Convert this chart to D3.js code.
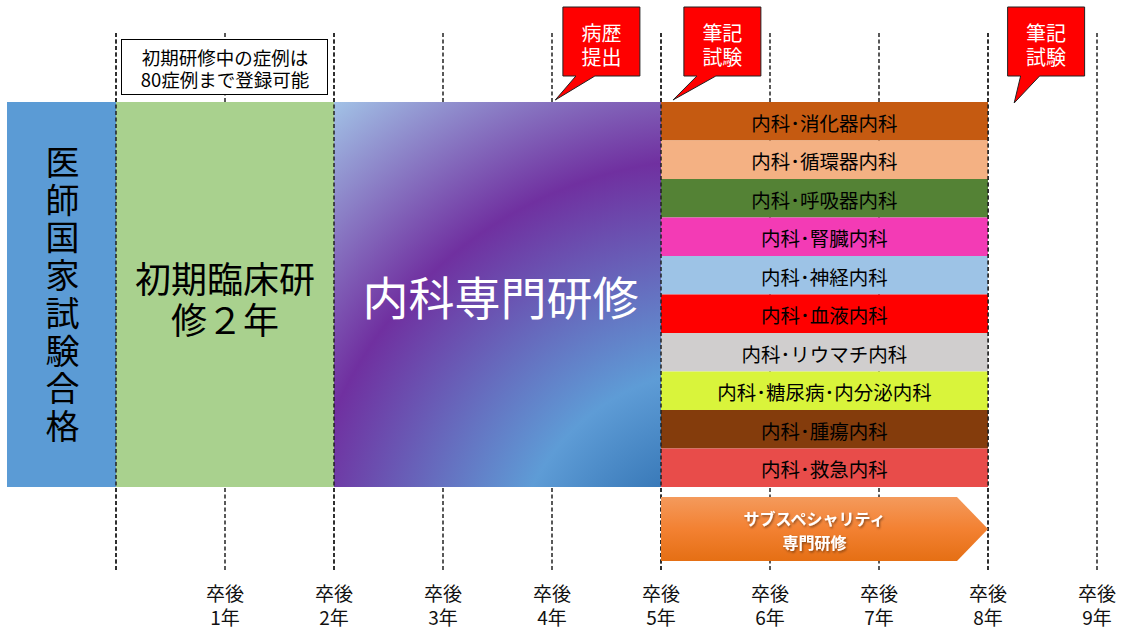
<!DOCTYPE html>
<html>
<head>
<meta charset="utf-8">
<script src="https://cdnjs.cloudflare.com/ajax/libs/d3/7.8.5/d3.min.js"></script>
<style>
  body { margin: 0; background: #fff; }
  text { font-family: "Noto Sans CJK JP", "Noto Sans", sans-serif; }
</style>
</head>
<body>
<script>
// timeline years (0 = graduation line)
var years = [0, 1, 2, 3, 4, 5, 6, 7, 8, 9];
var tickYears = [1, 2, 3, 4, 5, 6, 7, 8, 9];

// phases
var phaseStarts = [-1, 0, 2];
var phaseEnds = [0, 2, 5];
var phaseLines = [["医", "師", "国", "家", "試", "験", "合", "格"], ["初期臨床研", "修２年"], ["内科専門研修"]];

// subspecialties, 5 -> 8 years
var specialtyNames = ["内科･消化器内科", "内科･循環器内科", "内科･呼吸器内科", "内科･腎臓内科", "内科･神経内科",
  "内科･血液内科", "内科･リウマチ内科", "内科･糖尿病･内分泌内科", "内科･腫瘍内科", "内科･救急内科"];
var specialtyColors = ["#C55A11", "#F4B183", "#548235", "#F33BB5", "#9DC3E6",
  "#FF0000", "#D0CECE", "#D9F43B", "#843C0C", "#E84C4A"];
var specialtyStart = 5, specialtyEnd = 8;
var subLines = ["サブスペシャリティ", "専門研修"];

// callouts
var calloutLines = [["病歴", "提出"], ["筆記", "試験"], ["筆記", "試験"]];
var calloutBoxYears = [4.10, 5.21, 8.18];
var calloutTipYears = [4.03, 5.11, 8.24];

var noteLines = ["初期研修中の症例は", "80症例まで登録可能"];

var svgWidth = 1123, svgHeight = 628;

var xScale = d3.scaleLinear().domain([0, 9]).range([116, 1097]);
var yTop = 102, yBottom = 487;
var yScale = d3.scaleBand().domain(specialtyNames).range([yTop, yBottom]);

var svg = d3.select("body").append("svg")
  .attr("width", svgWidth).attr("height", svgHeight);

var defs = svg.append("defs");
var rad = defs.append("radialGradient").attr("id", "purple")
  .attr("gradientUnits", "userSpaceOnUse")
  .attr("cx", xScale(5) + 60).attr("cy", yBottom + 93).attr("r", 620);
[[0, "#1F5590"], [0.18, "#3A7AB9"], [0.34, "#5E9CD6"], [0.68, "#7030A0"], [1, "#A3C6E8"]].forEach(function(s) {
  rad.append("stop").attr("offset", s[0]).attr("stop-color", s[1]);
});
var lin = defs.append("linearGradient").attr("id", "orange")
  .attr("x1", 0).attr("y1", 0).attr("x2", 0).attr("y2", 1);
[[0, "#F49A5C"], [0.5, "#F38132"], [1, "#E56F14"]].forEach(function(s) {
  lin.append("stop").attr("offset", s[0]).attr("stop-color", s[1]);
});
defs.append("filter").attr("id", "shadow")
  .append("feDropShadow").attr("dx", 1).attr("dy", 1.5).attr("stdDeviation", 1)
  .attr("flood-color", "#000").attr("flood-opacity", 0.45);

// dashed year lines
function dashed(sel) {
  sel.attr("x1", (d) => xScale(d)).attr("x2", (d) => xScale(d))
    .attr("y1", 33).attr("y2", 572)
    .attr("stroke", "#222").attr("stroke-width", 1.5)
    .attr("stroke-dasharray", "4,2.5");
}
svg.append("g").selectAll("line").data(years).enter().append("line").call(dashed);

// phases
var phaseFills = ["#5B9BD5", "#A9D18E", "url(#purple)"];
svg.selectAll("rect.phase").data(phaseStarts).enter().append("rect")
  .attr("class", "phase")
  .attr("x", (d) => xScale(d))
  .attr("y", yTop)
  .attr("width", (d, i) => xScale(phaseEnds[i]) - xScale(d))
  .attr("height", yBottom - yTop)
  .attr("fill", (d, i) => phaseFills[i]);

// vertical text, one char per tspan
var cx0 = (xScale(-1) + xScale(0)) / 2;
svg.append("text")
  .attr("font-size", 34).attr("fill", "#000").attr("text-anchor", "middle")
  .selectAll("tspan").data(phaseLines[0]).enter().append("tspan")
  .attr("x", cx0 + 1)
  .attr("y", (d, i) => 175 + i * 37.7)
  .text((d) => d);

var cx1 = (xScale(0) + xScale(2)) / 2;
svg.append("g").selectAll("text").data(phaseLines[1]).enter().append("text")
  .attr("x", cx1)
  .attr("y", (d, i) => 277 + i * 41)
  .attr("text-anchor", "middle").attr("dominant-baseline", "central")
  .attr("font-size", 36).attr("fill", "#000")
  .text((d) => d);

svg.append("text")
  .attr("x", (xScale(2) + xScale(5)) / 2 + 3)
  .attr("y", 295)
  .attr("text-anchor", "middle").attr("dominant-baseline", "central")
  .attr("font-size", 46).attr("fill", "#fff")
  .text(phaseLines[2][0]);

// specialty rows
var rows = svg.append("g").selectAll("g").data(specialtyNames).enter().append("g");
rows.append("rect")
  .attr("x", xScale(specialtyStart))
  .attr("y", (d) => yScale(d))
  .attr("width", xScale(specialtyEnd) - xScale(specialtyStart))
  .attr("height", yScale.bandwidth())
  .attr("fill", (d, i) => specialtyColors[i]);
rows.append("text")
  .attr("x", (xScale(specialtyStart) + xScale(specialtyEnd)) / 2)
  .attr("y", (d) => yScale(d) + yScale.bandwidth() / 2 + 1)
  .attr("text-anchor", "middle").attr("dominant-baseline", "central")
  .attr("font-size", 19.5).attr("fill", "#000")
  .text((d) => d);

// boundary lines on top
svg.append("g").selectAll("line").data([0, 2, 5, 8]).enter().append("line").call(dashed);

// subspecialty arrow
var ax0 = xScale(specialtyStart), ax1 = xScale(specialtyEnd);
var ay0 = 497, ay1 = 561;
svg.append("path")
  .attr("d", "M" + ax0 + "," + ay0 + "H" + (ax1 - 31) + "L" + ax1 + "," + ((ay0 + ay1) / 2) +
    "L" + (ax1 - 31) + "," + ay1 + "H" + ax0 + "Z")
  .attr("fill", "url(#orange)");
svg.append("g").selectAll("text").data(subLines).enter().append("text")
  .attr("x", (ax0 + ax1) / 2 - 10)
  .attr("y", (d, i) => 518 + i * 24)
  .attr("text-anchor", "middle").attr("dominant-baseline", "central")
  .attr("font-size", 16).attr("font-weight", "bold").attr("fill", "#fff")
  .attr("filter", "url(#shadow)")
  .text((d) => d);

// note box
var note = svg.append("g");
note.append("rect")
  .attr("x", xScale(0) + 5.5).attr("y", 39.5)
  .attr("width", xScale(2) - xScale(0) - 12).attr("height", 55)
  .attr("fill", "#fff").attr("stroke", "#000").attr("stroke-width", 1);
note.selectAll("text").data(noteLines).enter().append("text")
  .attr("x", xScale(1))
  .attr("y", (d, i) => 57 + i * 22)
  .attr("text-anchor", "middle").attr("dominant-baseline", "central")
  .attr("font-size", 18.5).attr("fill", "#000")
  .text((d) => d);

// callouts
var bw = 77, by0 = 7, by1 = 76;
var call = svg.append("g").selectAll("g").data(calloutLines).enter().append("g");
call.append("path")
  .attr("d", function(d, i) {
    var l = xScale(calloutBoxYears[i]);
    var tx = xScale(calloutTipYears[i]);
    var ty = i == 2 ? 103 : 100;
    return "M" + l + "," + by0 + "H" + (l + bw) + "V" + by1 + "H" + (l + 32) +
      "L" + tx + "," + ty + "L" + (l + 13) + "," + by1 + "H" + l + "Z";
  })
  .attr("fill", "#FF0000").attr("stroke", "#222").attr("stroke-width", 1)
  .attr("stroke-linejoin", "miter");
call.each(function(d, i) {
  var l = xScale(calloutBoxYears[i]);
  d3.select(this).selectAll("text").data(d).enter().append("text")
    .attr("x", l + bw / 2)
    .attr("y", (t, j) => 32 + j * 24)
    .attr("text-anchor", "middle").attr("dominant-baseline", "central")
    .attr("font-size", 20).attr("fill", "#fff")
    .text((t) => t);
});

// year labels
var lab = svg.append("g").selectAll("g").data(tickYears).enter().append("g");
lab.append("text")
  .attr("x", (d) => xScale(d)).attr("y", 592)
  .attr("text-anchor", "middle").attr("dominant-baseline", "central")
  .attr("font-size", 19).attr("fill", "#111")
  .text("卒後");
lab.append("text")
  .attr("x", (d) => xScale(d)).attr("y", 616)
  .attr("text-anchor", "middle").attr("dominant-baseline", "central")
  .attr("font-size", 19).attr("fill", "#111")
  .text((d) => d + "年");
</script>
</body>
</html>
